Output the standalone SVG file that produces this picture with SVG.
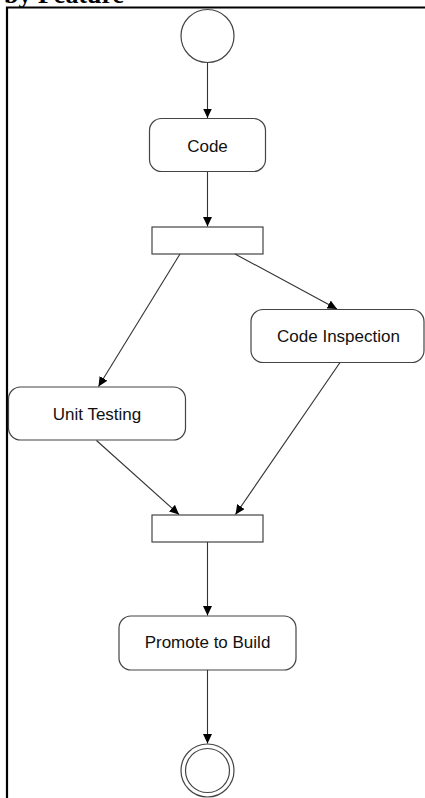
<svg xmlns="http://www.w3.org/2000/svg" width="425" height="798" viewBox="0 0 425 798">
<style>
.title{font-family:"Liberation Serif","Times New Roman",serif;font-weight:bold;font-size:26px;fill:#000}
.box{fill:#fff;stroke:#444;stroke-width:1.2}
.bar{fill:#fff;stroke:#444;stroke-width:1.2}
.lbl{font-family:"Liberation Sans",Arial,sans-serif;font-size:17px;fill:#111;text-anchor:middle}
.edge{fill:none;stroke:#333;stroke-width:1.1;marker-end:url(#arr)}
.frame{fill:none;stroke:#000;stroke-width:2.2}
</style>
<defs>
<marker id="arr" markerUnits="userSpaceOnUse" markerWidth="10" markerHeight="9" refX="9.5" refY="4.5" orient="auto">
<path d="M0,0 L9.5,4.5 L0,9 z" fill="#000"/>
</marker>
</defs>
<rect width="425" height="798" fill="#fff"/>
<text class="title" x="4" y="3">by Feature</text>
<path class="frame" d="M7,798 V7.5 H425"/>
<g id="start"><circle cx="207.5" cy="36" r="26.5" fill="#fff" stroke="#444" stroke-width="1.2"/></g>
<g id="code"><rect class="box" x="149.5" y="118.5" width="116" height="53" rx="12"/><text class="lbl" x="207.5" y="151.5">Code</text></g>
<g id="fork"><rect class="bar" x="152" y="227" width="111" height="27"/></g>
<g id="inspection"><rect class="box" x="251" y="309.5" width="173" height="53" rx="12"/><text class="lbl" x="338.5" y="341.5">Code Inspection</text></g>
<g id="unit"><rect class="box" x="8.5" y="387" width="177" height="53" rx="12"/><text class="lbl" x="97" y="419.5">Unit Testing</text></g>
<g id="join"><rect class="bar" x="152" y="515" width="111" height="27"/></g>
<g id="promote"><rect class="box" x="119" y="616" width="177" height="54" rx="12"/><text class="lbl" x="207.5" y="648">Promote to Build</text></g>
<g id="end"><circle cx="207.5" cy="770.5" r="26.5" fill="#fff" stroke="#444" stroke-width="1.2"/><circle cx="207.5" cy="770.5" r="22" fill="#fff" stroke="#444" stroke-width="1.2"/></g>
<g id="connectors">
<line class="edge" x1="207.5" y1="62.5" x2="207.5" y2="118"/>
<line class="edge" x1="207.5" y1="172" x2="207.5" y2="226.5"/>
<line class="edge" x1="180" y1="254" x2="98.5" y2="386.5"/>
<line class="edge" x1="235" y1="254" x2="337" y2="309"/>
<line class="edge" x1="96.5" y1="440.5" x2="179" y2="514.5"/>
<line class="edge" x1="340" y1="362.5" x2="235.5" y2="514.5"/>
<line class="edge" x1="207.5" y1="542" x2="207.5" y2="615.5"/>
<line class="edge" x1="207.5" y1="670" x2="207.5" y2="743.5"/>
</g>
</svg>
